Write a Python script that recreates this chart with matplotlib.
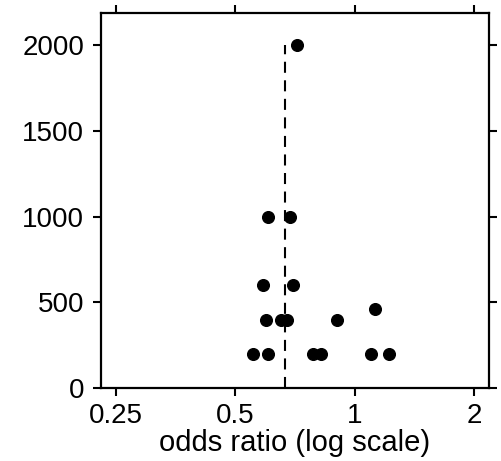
import numpy as np
import matplotlib
matplotlib.use('Agg')
import matplotlib.pyplot as plt
from matplotlib.ticker import FixedLocator, FixedFormatter, NullLocator

# study odds ratios against sample size
odds_ratio = [0.714, 0.604, 0.687, 0.588, 0.698, 1.125,
              0.596, 0.651, 0.675, 0.901,
              0.554, 0.604, 0.785, 0.824, 1.097, 1.22]
sample_size = [2000, 1000, 1000, 600, 600, 460,
               400, 400, 400, 400,
               200, 200, 200, 200, 200, 200]
pooled_or = 0.665
xticks = [0.25, 0.5, 1, 2]
xticklabels = ['0.25', '0.5', '1', '2']
yticks = [0, 500, 1000, 1500, 2000]

plt.rcParams['font.family'] = ['Liberation Sans', 'DejaVu Sans']

fig = plt.figure(figsize=(5.01, 4.61), dpi=100)
ax = fig.add_axes([0.2016, 0.158, 0.7745, 0.814])

ax.plot([pooled_or, pooled_or], [0, max(sample_size)], color='black',
        linestyle=(0, (5.3, 3.6)), linewidth=1.5)
ax.plot(odds_ratio, sample_size, 'o', color='black', markersize=8.4)

ax.set_xscale('log')
ax.set_xlim(0.229, 2.18)
ax.set_ylim(0, 2190)
ax.xaxis.set_major_locator(FixedLocator(xticks))
ax.xaxis.set_major_formatter(FixedFormatter(xticklabels))
ax.xaxis.set_minor_locator(NullLocator())
ax.set_yticks(yticks)

for s in ax.spines.values():
    s.set_linewidth(1.6)
ax.tick_params(which='major', direction='out', length=6, width=1.5,
               top=True, right=True, labelsize=20)
ax.tick_params(axis='y', pad=6)
ax.tick_params(axis='x', pad=5)
ax.set_xlabel('odds ratio (log scale)', fontsize=21, labelpad=0)

fig.savefig('out.png', dpi=100)
